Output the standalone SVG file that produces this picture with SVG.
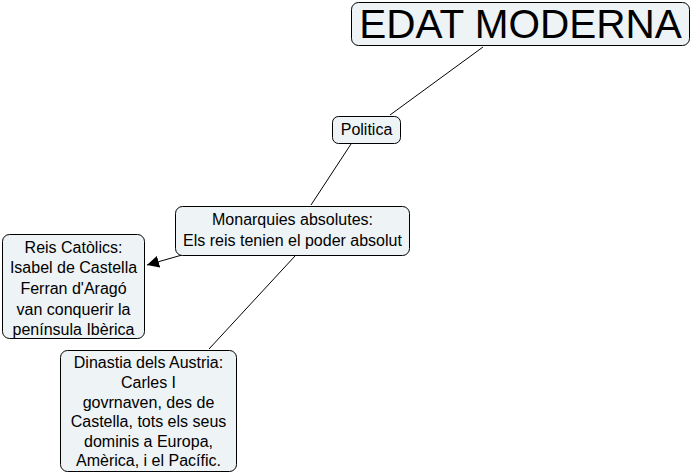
<svg xmlns="http://www.w3.org/2000/svg" width="692" height="475" viewBox="0 0 692 475">
<style>
.n{fill:#eef3f5;stroke:#000;stroke-width:1}
.t{font-family:"Liberation Sans",Arial,sans-serif;font-size:16px;fill:#000;text-anchor:middle}
.c{stroke:#000;stroke-width:1;fill:none}
</style>
<defs>
<marker id="a" viewBox="0 0 10 10" refX="10" refY="5" markerWidth="12" markerHeight="12" markerUnits="userSpaceOnUse" orient="auto">
<path d="M0,0 L10,5 L0,10 z" fill="#000"/>
</marker>
</defs>
<rect width="692" height="475" fill="#fff"/>
<g id="connectors">
<line class="c" x1="483" y1="47" x2="390" y2="115"/>
<line class="c" x1="351" y1="144" x2="311" y2="205"/>
<line class="c" x1="182" y1="255" x2="147" y2="265" marker-end="url(#a)"/>
<line class="c" x1="295" y1="256" x2="209" y2="349"/>
</g>
<g id="edat">
<rect class="n" x="351.5" y="2.5" width="338" height="43" rx="7"/>
<text class="t" x="520.5" y="38" style="font-size:40.5px">EDAT MODERNA</text>
</g>
<g id="politica">
<rect class="n" x="332.5" y="116.5" width="68" height="27" rx="6"/>
<text class="t" x="366.5" y="135">Politica</text>
</g>
<g id="monarquies">
<rect class="n" x="175.5" y="206.5" width="234" height="49" rx="7"/>
<text class="t" x="292.5" y="225">Monarquies absolutes:</text>
<text class="t" x="292.5" y="246">Els reis tenien el poder absolut</text>
</g>
<g id="reis">
<rect class="n" x="2.5" y="234.5" width="142" height="104" rx="7"/>
<text class="t" x="73.5" y="253">Reis Catòlics:</text>
<text class="t" x="73.5" y="273">Isabel de Castella</text>
<text class="t" x="73.5" y="294">Ferran d'Aragó</text>
<text class="t" x="73.5" y="315">van conquerir la</text>
<text class="t" x="73.5" y="335">península Ibèrica</text>
</g>
<g id="dinastia">
<rect class="n" x="60.5" y="350.5" width="176" height="121" rx="7"/>
<text class="t" x="148.5" y="368">Dinastia dels Austria:</text>
<text class="t" x="148.5" y="388">Carles I</text>
<text class="t" x="148.5" y="408">govrnaven, des de</text>
<text class="t" x="148.5" y="427">Castella, tots els seus</text>
<text class="t" x="148.5" y="447">dominis a Europa,</text>
<text class="t" x="148.5" y="466">Amèrica, i el Pacífic.</text>
</g>
</svg>
